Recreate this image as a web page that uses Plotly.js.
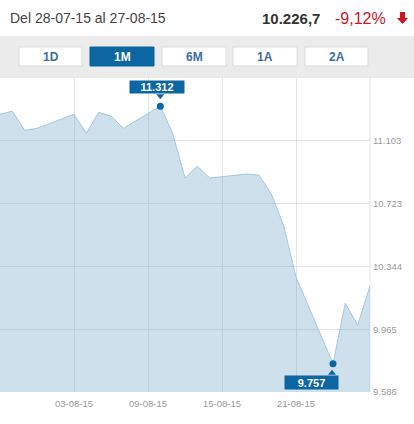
<!DOCTYPE html>
<html>
<head>
<meta charset="utf-8">
<script src="https://cdn.plot.ly/plotly-3.0.1.min.js"></script>
<style>
  html, body { margin: 0; padding: 0; background: #fff; }
  #chart { width: 414px; height: 424px; }
</style>
</head>
<body>
<div id="chart"></div>
<script>
// ---- data ----
const dates = ['2015-07-28','2015-07-29','2015-07-30','2015-07-31',
  '2015-08-03','2015-08-04','2015-08-05','2015-08-06','2015-08-07',
  '2015-08-10','2015-08-11','2015-08-12','2015-08-13','2015-08-14',
  '2015-08-17','2015-08-18','2015-08-19','2015-08-20','2015-08-21',
  '2015-08-24','2015-08-25','2015-08-26','2015-08-27'];
const values = [11263, 11282, 11166, 11178,
  11263, 11148, 11275, 11252, 11178,
  11312, 11148, 10878, 10950, 10878,
  10902, 10896, 10781, 10591, 10280,
  9757, 10123, 9989, 10226.7];
const yTickVals = [9586, 9965, 10344, 10723, 11103];
const yTickText = ['9.586', '9.965', '10.344', '10.723', '11.103'];
const xTickVals = ['2015-08-03', '2015-08-09', '2015-08-15', '2015-08-21', '2015-08-27'];
const xTickText = ['03-08-15', '09-08-15', '15-08-15', '21-08-15', ''];
const periodLabel = 'Del 28-07-15 al 27-08-15';
const lastValueText = '10.226,7';
const changeText = '-9,12%';
const buttons = ['1D', '1M', '6M', '1A', '2A'];
const activeButton = '1M';

// ---- helpers ----
const W = 414, H = 424, L = 0, R = 370, T = 78, B = 392;
const px = x => (x - L) / (R - L);
const py = y => (B - y) / (B - T);
const fmt = v => Math.round(v).toString().replace(/\B(?=(\d{3})+(?!\d))/g, '.');

let iMax = 0, iMin = 0;
values.forEach((v, i) => { if (v > values[iMax]) iMax = i; if (v < values[iMin]) iMin = i; });

const blue = '#0b66a1';
const FONT = 'Liberation Sans, Arial, sans-serif';

const shapes = [
  // gray toolbar
  {type: 'rect', xref: 'paper', yref: 'paper', x0: px(0), x1: px(W), y0: py(78), y1: py(36),
   fillcolor: '#ebebeb', line: {width: 0}, layer: 'above'},
  // right border line of plot
  {type: 'line', xref: 'paper', yref: 'paper', x0: 1, x1: 1, y0: 0, y1: 1,
   line: {color: '#e4e4e4', width: 1}, layer: 'below'},
  // red down arrow
  {type: 'path', xref: 'paper', yref: 'paper',
   path: `M ${px(400)},${py(12)} L ${px(405)},${py(12)} L ${px(405)},${py(18)} L ${px(408)},${py(18)} L ${px(402.5)},${py(24)} L ${px(397)},${py(18)} L ${px(400)},${py(18)} Z`,
   fillcolor: '#d0141a', line: {width: 0}},
  // notch under max label
  {type: 'path', xref: 'x', yref: 'y', xsizemode: 'pixel', ysizemode: 'pixel',
   xanchor: dates[iMax], yanchor: values[iMax], path: 'M -4,12 L 4,12 L 0,7 Z',
   fillcolor: blue, line: {width: 0}, layer: 'above'},
  // notch above min label
  {type: 'path', xref: 'x', yref: 'y', xsizemode: 'pixel', ysizemode: 'pixel',
   xanchor: dates[iMin], yanchor: values[iMin], path: 'M -5,-11 L 3,-11 L -1,-6 Z',
   fillcolor: blue, line: {width: 0}, layer: 'above'}
];
const annotations = [
  {xref: 'paper', yref: 'paper', x: px(8), y: py(18), xanchor: 'left', yanchor: 'middle',
   text: periodLabel, showarrow: false, font: {family: FONT, size: 14, color: '#444'}},
  {xref: 'paper', yref: 'paper', x: px(322), y: py(18), xanchor: 'right', yanchor: 'middle',
   text: '<b>' + lastValueText + '</b>', showarrow: false, font: {family: FONT, size: 15, color: '#333'}},
  {xref: 'paper', yref: 'paper', x: px(333), y: py(18), xanchor: 'left', yanchor: 'middle',
   text: changeText, showarrow: false, font: {family: FONT, size: 16, color: '#c8171e'}},
];

const btnX = [[19, 82], [90, 154], [162, 226], [233, 297], [305, 368]];
buttons.forEach((b, i) => {
  const active = b === activeButton;
  shapes.push({type: 'rect', xref: 'paper', yref: 'paper', x0: px(btnX[i][0]), x1: px(btnX[i][1]),
    y0: py(66), y1: py(47), fillcolor: active ? blue : '#ffffff',
    line: {width: 1, color: active ? blue : '#dcdcdc'}, layer: 'above'});
  annotations.push({xref: 'paper', yref: 'paper', x: px((btnX[i][0] + btnX[i][1]) / 2), y: py(57),
    xanchor: 'center', yanchor: 'middle', text: '<b>' + b + '</b>', showarrow: false,
    font: {family: FONT, size: 12, color: active ? '#ffffff' : '#3d6e9e'}});
});

// max / min labels
annotations.push(
  {x: dates[iMax], y: values[iMax], xref: 'x', yref: 'y', text: '<b>' + fmt(values[iMax]) + '</b>',
   showarrow: false, xanchor: 'center', yanchor: 'bottom', yshift: 12, xshift: -3,
   width: 54, height: 12, bgcolor: blue, borderpad: 0,
   font: {family: FONT, size: 11, color: '#fff'}},
  {x: dates[iMin], y: values[iMin], xref: 'x', yref: 'y', text: '<b>' + fmt(values[iMin]) + '</b>',
   showarrow: false, xanchor: 'center', yanchor: 'top', yshift: -11, xshift: -22,
   width: 53, height: 13, bgcolor: blue, borderpad: 0,
   font: {family: FONT, size: 11, color: '#fff'}}
);

const traces = [
  {x: dates, y: values, type: 'scatter', mode: 'lines', fill: 'tozeroy',
   fillcolor: 'rgba(100,160,196,0.32)', line: {color: '#a6c8da', width: 1},
   hoverinfo: 'skip'},
  {x: [dates[iMax], dates[iMin]], y: [values[iMax], values[iMin]], type: 'scatter', mode: 'markers',
   marker: {color: blue, size: 7}, hoverinfo: 'skip'}
];

const layout = {
  width: W, height: H,
  margin: {l: L, r: W - R, t: T, b: H - B, pad: 0},
  paper_bgcolor: '#fff', plot_bgcolor: '#fff',
  showlegend: false,
  xaxis: {type: 'date', range: ['2015-07-28', '2015-08-27'], tickmode: 'array',
    tickvals: xTickVals, ticktext: xTickText, showgrid: true, gridcolor: '#e4e4e4', gridwidth: 1,
    zeroline: false, showline: false, ticks: '', fixedrange: true, ticklabelstandoff: 4,
    tickfont: {family: FONT, size: 9.5, color: '#999'}},
  yaxis: {side: 'right', range: [9586, 11482], tickmode: 'array', tickvals: yTickVals,
    ticktext: yTickText, showgrid: true, gridcolor: '#e4e4e4', gridwidth: 1, zeroline: false,
    showline: false, ticks: '', ticklabelstandoff: 2, fixedrange: true,
    tickfont: {family: FONT, size: 9.5, color: '#999'}},
  shapes: shapes,
  annotations: annotations
};

Plotly.newPlot('chart', traces, layout, {displayModeBar: false, staticPlot: true});
</script>
</body>
</html>
